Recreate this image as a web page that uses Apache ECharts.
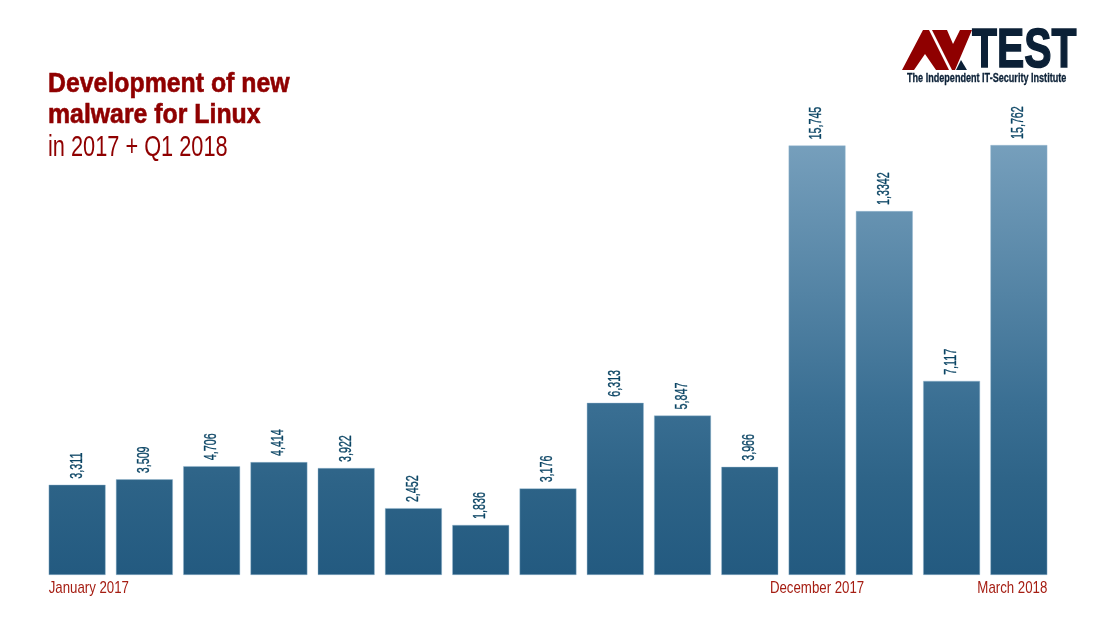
<!DOCTYPE html>
<html>
<head>
<meta charset="utf-8">
<script src="https://cdn.jsdelivr.net/npm/echarts@6/dist/echarts.min.js"></script>
<style>
  html, body { margin: 0; background: #fff; }
  #chart { width: 1106px; height: 623px; }
</style>
</head>
<body>
<div id="chart"></div>
<script>
const months = ['Jan 2017', 'Feb 2017', 'Mar 2017', 'Apr 2017', 'May 2017', 'Jun 2017', 'Jul 2017', 'Aug 2017',
  'Sep 2017', 'Oct 2017', 'Nov 2017', 'Dec 2017', 'Jan 2018', 'Feb 2018', 'Mar 2018'];
// bar heights as drawn (Mar/Apr 2017 are drawn lower than their printed numbers)
const barValues = [3311, 3509, 3990, 4140, 3922, 2452, 1836, 3176, 6313, 5847, 3966, 15745, 13342, 7117, 15762];
// numbers as printed above the bars, typo included
const printedLabels = ['3,311', '3,509', '4,706', '4,414', '3,922', '2,452', '1,836', '3,176', '6,313', '5,847',
  '3,966', '15,745', '1,3342', '7,117', '15,762'];
const axisNames = ['January 2017', '', '', '', '', '', '', '', '', '', '', 'December 2017', '', '', 'March 2018'];

const sans = '"Liberation Sans", sans-serif';
const red = '#8f0000';
const navy = '#0b2036';
const barW = 57;

// no narrow font is installed, so text is squeezed with scaleX
function squeezed(text, x, y, font, scaleX, fill, extra) {
  return {
    type: 'text', x, y, scaleX, silent: true,
    style: Object.assign({ text, font, fill, textAlign: 'left', textVerticalAlign: 'top' }, extra)
  };
}

const chart = echarts.init(document.getElementById('chart'));
chart.setOption({
  animation: false,
  backgroundColor: '#fff',
  grid: { left: 43.5, right: 53.5, top: 145, bottom: 48 },
  xAxis: {
    type: 'category',
    data: months,
    axisLine: { show: false },
    axisTick: { show: false },
    axisLabel: { show: false }
  },
  yAxis: { type: 'value', min: 0, max: 15762, show: false },
  series: [{
    type: 'bar',
    barWidth: barW,
    data: barValues,
    itemStyle: {
      borderColor: 'rgba(150,185,210,0.7)',
      borderWidth: 0.6,
      // one gradient over the whole plot, so only tall bars reach the light tone
      color: new echarts.graphic.LinearGradient(0, 145, 0, 575, [
        { offset: 0, color: '#769fbc' },
        { offset: 0.6, color: '#3a6f93' },
        { offset: 0.79, color: '#2d6387' },
        { offset: 1, color: '#235a80' }
      ], true)
    }
  }, {
    // printed numbers, rotated and squeezed above each bar
    type: 'custom',
    data: months.map((m, i) => [i, barValues[i]]),
    renderItem(params, api) {
      const p = api.coord([api.value(0), api.value(1)]);
      return {
        type: 'text', x: p[0], y: p[1] - 6, rotation: Math.PI / 2, scaleX: 0.67,
        style: {
          text: printedLabels[params.dataIndex], font: '16px ' + sans, fill: '#0a4464',
          stroke: '#0a4464', lineWidth: 0.35,
          textAlign: 'left', textVerticalAlign: 'middle'
        }
      };
    }
  }, {
    // axis captions: first flush left, middle centred, last flush right
    type: 'custom',
    data: months.map((m, i) => [i, 0]),
    renderItem(params, api) {
      const text = axisNames[params.dataIndex];
      if (!text) return null;
      const p = api.coord([api.value(0), 0]);
      const idx = params.dataIndex;
      const x = idx === 0 ? p[0] - barW / 2 : idx === months.length - 1 ? p[0] + barW / 2 : p[0];
      return {
        type: 'text', x, y: p[1] + 13, scaleX: 0.78,
        style: {
          text, font: '17px ' + sans, fill: '#a51d12',
          textAlign: idx === 0 ? 'left' : idx === months.length - 1 ? 'right' : 'center',
          textVerticalAlign: 'middle'
        }
      };
    }
  }],
  graphic: [
    squeezed('Development of new', 48, 71, 'bold 27px ' + sans, 0.92, red, { stroke: red, lineWidth: 0.6 }),
    squeezed('malware for Linux', 48, 102, 'bold 27px ' + sans, 0.92, red, { stroke: red, lineWidth: 0.6 }),
    squeezed('in 2017 + Q1 2018', 48, 133, '29px ' + sans, 0.75, red),
    // logo
    { type: 'polygon', shape: { points: [[902, 70], [923, 30], [929, 30], [949, 70], [936, 70], [925, 54], [914, 70]] }, style: { fill: red } },
    { type: 'polygon', shape: { points: [[932, 30], [947, 30], [953, 44], [960, 30], [972, 30], [955, 70], [952, 70]] }, style: { fill: red } },
    { type: 'polygon', shape: { points: [[956, 70], [961, 60], [967, 70]] }, style: { fill: navy } },
    squeezed('TEST', 972, 24, 'bold 56px ' + sans, 0.73, navy, { stroke: navy, lineWidth: 1.5 }),
    squeezed('The Independent IT-Security Institute', 907, 73, 'bold 12px ' + sans, 0.756, navy, { stroke: navy, lineWidth: 0.3 })
  ]
});
</script>
</body>
</html>
